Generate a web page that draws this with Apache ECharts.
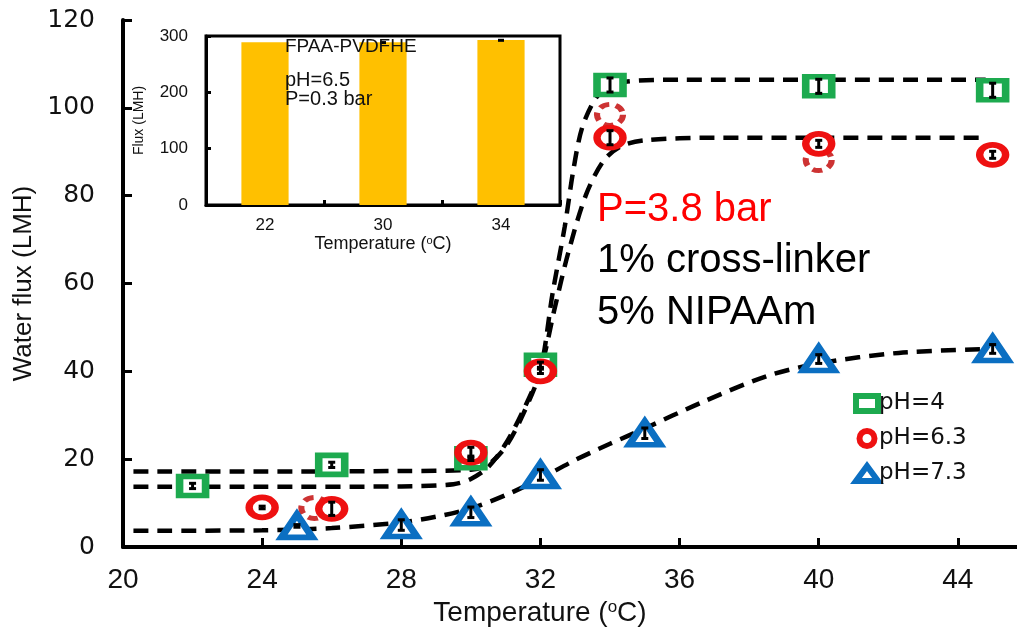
<!DOCTYPE html>
<html>
<head>
<meta charset="utf-8">
<script src="https://cdn.jsdelivr.net/npm/echarts@6/dist/echarts.min.js"></script>
<style>
  html, body { margin: 0; padding: 0; background: #fff; }
  #chart { width: 1017px; height: 628px; }
</style>
</head>
<body>
<div id="chart"></div>
<script>
// ---- Main plot: water flux vs temperature at three pH values ----
const seriesNames = ['pH=4', 'pH=6.3', 'pH=7.3'];

const ph4Temp = [22, 26, 30, 32, 34, 40, 45];
const ph4Flux = [13.9, 18.7, 20.2, 41.5, 105.2, 104.9, 104.0];
const ph4Err  = [0.6, 0.6, 0.5, 0.6, 1.6, 1.6, 1.6];

const ph63Temp = [24, 26, 30, 32, 34, 40, 45];
const ph63Flux = [9.0, 8.7, 21.5, 40.0, 93.2, 91.8, 89.3];
const ph63Err  = [0.3, 1.5, 1.2, 0.5, 1.6, 0.8, 0.8];

const ph73Temp = [25, 28, 30, 32, 35, 40, 45];
const ph73Flux = [4.8, 5.0, 7.9, 16.4, 25.9, 42.8, 45.1];
const ph73Err  = [0.3, 1.2, 1.2, 1.2, 1.2, 1.0, 1.0];

// Repeat measurements at pH=6.3 (dashed outlines)
const ph63RepeatTemp = [25.5, 34, 40];
const ph63RepeatFlux = [8.9, 98.4, 88.1];

// Fitted curves (temperature, flux)
const fitPh4 = [[20.3, 17.2], [24, 17.2], [28, 17.3], [30, 17.6], [30.5, 18.8], [31, 22.8], [31.5, 30.2],
  [32, 40.3], [32.35, 57.8], [32.7, 73], [32.95, 86], [33.2, 95.5], [33.6, 102.3], [34, 104.8],
  [34.5, 106], [36, 106.4], [40, 106.4], [44.8, 106.4]];
const fitPh63 = [[20.3, 13.7], [24, 13.7], [28, 13.8], [29.5, 14.3], [30, 15.5], [30.5, 18.2], [31, 23.5],
  [31.5, 31], [32, 40.3], [32.4, 54], [32.8, 67], [33.3, 80], [33.8, 87.8], [34.3, 91.2],
  [35, 92.6], [37, 93.2], [40, 93.2], [44.8, 93.2]];
const fitPh73 = [[20.3, 3.7], [24, 3.8], [26, 4.3], [28, 5.6], [29, 6.9], [30, 8.8], [31, 11.8],
  [32, 15.6], [33, 19.8], [34, 23.5], [35, 27], [36.6, 32.8], [38.5, 38.9], [40, 41.8],
  [42.3, 44.2], [45, 45.1]];

const xTicks = { min: 20, max: 45.7, step: 4 };
const yTicks = { min: 0, max: 120, step: 20 };

// ---- Inset: flux of FPAA-PVDFHE at three temperatures ----
const insetCats = ['22', '30', '34'];
const insetFlux = [289, 289, 293];
const insetErr  = [0, 2, 2];

const GREEN = '#1daa4f';
const RED = '#ee1111';
const DARKRED = '#c00000';
const BLUE = '#0b6fc2';
const FONT = 'Liberation Sans, Arial, sans-serif';

const zip = (xs, ys) => xs.map((x, i) => [x, ys[i]]);
const zip3 = (xs, ys, es) => xs.map((x, i) => [x, ys[i], es[i]]);

function errorBar(capHalf, lw) {
  return function (params, api) {
    const x = api.value(0), y = api.value(1), e = api.value(2);
    if (!e) return null;
    const top = api.coord([x, y + e]);
    const bot = api.coord([x, y - e]);
    const st = { stroke: '#000', lineWidth: lw };
    return {
      type: 'group',
      children: [
        { type: 'line', shape: { x1: top[0], y1: top[1], x2: bot[0], y2: bot[1] }, style: st },
        { type: 'line', shape: { x1: top[0] - capHalf, y1: top[1], x2: top[0] + capHalf, y2: top[1] }, style: st },
        { type: 'line', shape: { x1: bot[0] - capHalf, y1: bot[1], x2: bot[0] + capHalf, y2: bot[1] }, style: st }
      ]
    };
  };
}

function insetErrorBar(params, api) {
  const e = api.value(2);
  if (!e) return null;
  const idx = api.value(0);
  const v = api.value(1);
  const top = api.coord([idx, v + e]);
  const bot = api.coord([idx, v - e]);
  return {
    type: 'rect',
    shape: { x: top[0] - 3, y: top[1], width: 6, height: Math.max(3, bot[1] - top[1]) },
    style: { fill: '#000' }
  };
}

const fitLine = (data) => ({
  type: 'line', xAxisIndex: 0, yAxisIndex: 0, data: data,
  smooth: 0.3, showSymbol: false, symbol: 'none', silent: true, z: 2,
  lineStyle: { color: '#000', width: 4.5, type: [15, 9] }
});

const markerSeries = (name, data, symbol, size, color) => ({
  name: name, type: 'scatter', xAxisIndex: 0, yAxisIndex: 0, data: data,
  symbol: symbol, symbolSize: size, z: 4,
  itemStyle: { color: '#fff', borderColor: color, borderWidth: 6.5, opacity: 1 }
});

const chart = echarts.init(document.getElementById('chart'), null, { renderer: 'canvas' });

const option = {
  backgroundColor: '#fff',
  animation: false,
  grid: [
    { left: 123, right: 0, top: 20, bottom: 81, containLabel: false, outerBoundsMode: 'none' },
    { left: 206, top: 36, width: 354, height: 169, show: true, borderColor: '#000', borderWidth: 3,
      backgroundColor: '#fff', z: 5, containLabel: false, outerBoundsMode: 'none' }
  ],
  legend: {
    data: seriesNames,
    orient: 'vertical',
    left: 848, top: 387,
    itemWidth: 22, itemHeight: 15, itemGap: 12,
    itemStyle: { borderWidth: 6, color: '#fff' },
    textStyle: { fontFamily: 'DejaVu Sans, sans-serif', fontSize: 23, color: '#111', padding: [0, 0, 0, -4] },
    z: 10
  },
  xAxis: [
    {
      type: 'value', gridIndex: 0,
      min: xTicks.min, max: xTicks.max, interval: xTicks.step,
      axisLine: { show: true, lineStyle: { color: '#000', width: 4 } },
      axisTick: { show: true, inside: true, length: 9, lineStyle: { color: '#000', width: 3 } },
      axisLabel: { showMaxLabel: false, color: '#111', fontFamily: FONT, fontSize: 28, margin: 19 },
      splitLine: { show: false },
      name: 'Temperature ({s|o}C)',
      nameLocation: 'middle', nameGap: 50,
      nameTextStyle: {
        fontFamily: FONT, fontSize: 28, color: '#111', padding: [0, 60, 0, 0],
        rich: { s: { fontFamily: FONT, fontSize: 17, verticalAlign: 'top', padding: [0, 0, 10, 0], color: '#111' } }
      }
    },
    {
      type: 'category', gridIndex: 1, data: insetCats,
      boundaryGap: true,
      axisLine: { show: true, lineStyle: { color: '#000', width: 3 } },
      axisTick: { show: true, inside: true, length: 5, lineStyle: { color: '#000', width: 3 } },
      axisLabel: { color: '#111', fontFamily: FONT, fontSize: 17, margin: 12 },
      name: 'Temperature ({s|o}C)',
      nameLocation: 'middle', nameGap: 30,
      nameTextStyle: {
        fontFamily: FONT, fontSize: 18, color: '#111',
        rich: { s: { fontFamily: FONT, fontSize: 11, verticalAlign: 'top', padding: [0, 0, 6, 0], color: '#111' } }
      },
      z: 6
    }
  ],
  yAxis: [
    {
      type: 'value', gridIndex: 0,
      min: yTicks.min, max: yTicks.max, interval: yTicks.step,
      axisLine: { show: true, lineStyle: { color: '#000', width: 4 } },
      axisTick: { show: true, inside: true, length: 9, lineStyle: { color: '#000', width: 3 } },
      axisLabel: { color: '#111', fontFamily: 'DejaVu Sans, sans-serif', fontSize: 25, margin: 28 },
      splitLine: { show: false },
      name: 'Water flux (LMH)',
      nameLocation: 'middle', nameGap: 76, nameRotate: 90,
      nameTextStyle: { fontFamily: FONT, fontSize: 26, color: '#111' }
    },
    {
      type: 'value', gridIndex: 1,
      min: 0, max: 300, interval: 100,
      axisLine: { show: true, lineStyle: { color: '#000', width: 3 } },
      axisTick: { show: true, inside: true, length: 5, lineStyle: { color: '#000', width: 3 } },
      axisLabel: { color: '#111', fontFamily: FONT, fontSize: 17, margin: 18 },
      splitLine: { show: false },
      name: 'Flux (LMH)',
      nameLocation: 'middle', nameGap: 60, nameRotate: 90,
      nameTextStyle: { fontFamily: FONT, fontSize: 14, color: '#111' },
      z: 6
    }
  ],
  series: [
    fitLine(fitPh4),
    fitLine(fitPh63),
    fitLine(fitPh73),
    {
      type: 'scatter', xAxisIndex: 0, yAxisIndex: 0,
      data: zip(ph63RepeatTemp, ph63RepeatFlux),
      symbol: 'circle', symbolSize: [26, 21], z: 3, silent: true,
      itemStyle: { color: 'rgba(255,255,255,0)', borderColor: DARKRED, borderWidth: 5.5, borderType: [9, 6] }
    },
    markerSeries('pH=4', zip(ph4Temp, ph4Flux), 'rect', [26, 19], GREEN),
    markerSeries('pH=6.3', zip(ph63Temp, ph63Flux), 'circle', [26, 20], RED),
    markerSeries('pH=7.3', zip(ph73Temp, ph73Flux), 'triangle', [31, 23], BLUE),
    {
      type: 'custom', xAxisIndex: 0, yAxisIndex: 0, z: 5, silent: true,
      renderItem: errorBar(3.5, 3),
      data: zip3(ph4Temp, ph4Flux, ph4Err).concat(zip3(ph63Temp, ph63Flux, ph63Err), zip3(ph73Temp, ph73Flux, ph73Err))
    },
    {
      type: 'bar', xAxisIndex: 1, yAxisIndex: 1, data: insetFlux,
      barWidth: '40%', z: 6,
      itemStyle: { color: '#ffc000' }
    },
    {
      type: 'custom', xAxisIndex: 1, yAxisIndex: 1, z: 7, silent: true,
      renderItem: insetErrorBar,
      data: insetCats.map((c, i) => [i, insetFlux[i], insetErr[i]])
    }
  ],
  graphic: [
    { type: 'text', left: 285, top: 37, z: 20, style: { text: 'FPAA-PVDFHE', fontFamily: FONT, fontSize: 19, fill: '#111' } },
    { type: 'text', left: 285, top: 70, z: 20, style: { text: 'pH=6.5', fontFamily: FONT, fontSize: 20, fill: '#111' } },
    { type: 'text', left: 285, top: 89, z: 20, style: { text: 'P=0.3 bar', fontFamily: FONT, fontSize: 20, fill: '#111' } },
    { type: 'text', left: 597, top: 190, z: 20, style: { text: 'P=3.8 bar', fontFamily: FONT, fontSize: 40, fill: '#ff0000' } },
    { type: 'text', left: 597, top: 241, z: 20, style: { text: '1% cross-linker', fontFamily: FONT, fontSize: 40, fill: '#000' } },
    { type: 'text', left: 597, top: 293, z: 20, style: { text: '5% NIPAAm', fontFamily: FONT, fontSize: 40, fill: '#000' } }
  ]
};

chart.setOption(option);
</script>
</body>
</html>
